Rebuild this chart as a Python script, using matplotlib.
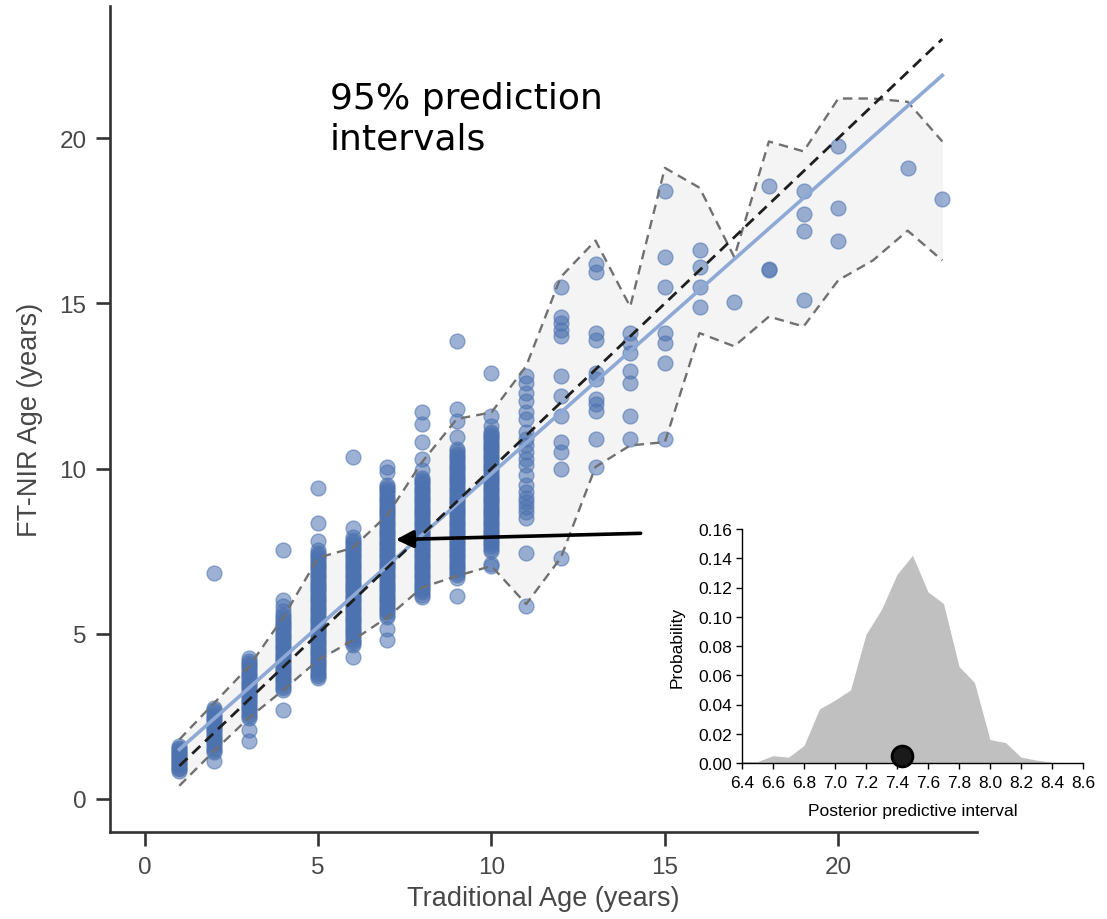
import matplotlib
matplotlib.use("Agg")
import matplotlib.pyplot as plt

plt.rcParams['font.family'] = ['Liberation Sans', 'DejaVu Sans']

# ---------------- data ----------------
# FT-NIR ages observed at each traditional age (years)
col_1 = [0.85, 0.9, 0.95, 1.0, 1.05, 1.1, 1.15, 1.2, 1.25, 1.3, 1.35, 1.4, 1.45, 1.5, 1.55, 1.6]
col_2 = [1.15, 1.42, 1.48, 1.55, 1.62, 1.68, 1.75, 1.82, 1.88, 1.95, 2.02, 2.08, 2.15, 2.22, 2.28,
         2.35, 2.42, 2.48, 2.55, 2.62, 2.68, 2.75, 6.85]
col_3 = [1.75, 2.1, 2.45, 2.52, 2.58, 2.65, 2.72, 2.78, 2.85, 2.92, 2.98, 3.05, 3.12, 3.18, 3.25,
         3.32, 3.38, 3.45, 3.52, 3.58, 3.65, 3.72, 3.78, 3.85, 3.92, 3.98, 4.05, 4.12, 4.18, 4.28]
col_4 = [2.7, 3.3, 3.37, 3.43, 3.5, 3.57, 3.63, 3.7, 3.77, 3.83, 3.9, 3.97, 4.03, 4.1, 4.17, 4.23,
         4.3, 4.37, 4.43, 4.5, 4.57, 4.63, 4.7, 4.77, 4.83, 4.9, 4.97, 5.03, 5.1, 5.17, 5.23, 5.3,
         5.37, 5.43, 5.5, 5.57, 5.7, 5.85, 6.02, 7.55]
col_5 = [3.65, 3.72, 3.78, 3.85, 3.92, 3.98, 4.05, 4.12, 4.18, 4.25, 4.32, 4.38, 4.45, 4.52, 4.58,
         4.65, 4.72, 4.78, 4.85, 4.92, 4.98, 5.05, 5.12, 5.18, 5.25, 5.32, 5.38, 5.45, 5.52, 5.58,
         5.65, 5.72, 5.78, 5.85, 5.92, 5.98, 6.05, 6.12, 6.18, 6.25, 6.32, 6.38, 6.45, 6.52, 6.58,
         6.65, 6.72, 6.78, 6.85, 6.92, 6.98, 7.05, 7.12, 7.18, 7.25, 7.32, 7.38, 7.45, 7.52,
         7.82, 8.35, 9.4]
col_6 = [4.3, 4.65, 4.72, 4.78, 4.85, 4.92, 4.98, 5.05, 5.12, 5.18, 5.25, 5.32, 5.38, 5.45, 5.52,
         5.58, 5.65, 5.72, 5.78, 5.85, 5.92, 5.98, 6.05, 6.12, 6.18, 6.25, 6.32, 6.38, 6.45, 6.52,
         6.58, 6.65, 6.72, 6.78, 6.85, 6.92, 6.98, 7.05, 7.12, 7.18, 7.25, 7.32, 7.38, 7.45, 7.52,
         7.58, 7.65, 7.72, 7.78, 7.85, 7.92, 8.2, 10.35]
col_7 = [4.8, 5.15, 5.5, 5.58, 5.65, 5.72, 5.78, 5.85, 5.92, 5.98, 6.05, 6.12, 6.18, 6.25, 6.32,
         6.38, 6.45, 6.52, 6.58, 6.65, 6.72, 6.78, 6.85, 6.92, 6.98, 7.05, 7.12, 7.18, 7.25, 7.32,
         7.38, 7.45, 7.52, 7.58, 7.65, 7.72, 7.78, 7.85, 7.92, 7.98, 8.05, 8.12, 8.18, 8.25, 8.32,
         8.38, 8.45, 8.52, 8.58, 8.65, 8.72, 8.78, 8.85, 8.92, 8.98, 9.05, 9.12, 9.18, 9.25, 9.32,
         9.38, 9.45, 9.5, 9.9, 10.05]
col_8 = [6.1, 6.18, 6.25, 6.32, 6.38, 6.45, 6.52, 6.58, 6.65, 6.72, 6.78, 6.85, 6.92, 6.98, 7.05,
         7.12, 7.18, 7.25, 7.32, 7.38, 7.45, 7.52, 7.58, 7.65, 7.72, 7.78, 7.85, 7.92, 7.98, 8.05,
         8.12, 8.18, 8.25, 8.32, 8.38, 8.45, 8.52, 8.58, 8.65, 8.72, 8.78, 8.85, 8.92, 8.98, 9.05,
         9.12, 9.18, 9.25, 9.32, 9.38, 9.45, 9.52, 9.58, 9.65, 9.7, 9.95, 10.3, 10.8, 11.35, 11.7]
col_9 = [6.15, 6.7, 6.78, 6.85, 6.92, 6.98, 7.05, 7.12, 7.18, 7.25, 7.32, 7.38, 7.45, 7.52, 7.58,
         7.65, 7.72, 7.78, 7.85, 7.92, 7.98, 8.05, 8.12, 8.18, 8.25, 8.32, 8.38, 8.45, 8.52, 8.58,
         8.65, 8.72, 8.78, 8.85, 8.92, 8.98, 9.05, 9.12, 9.18, 9.25, 9.32, 9.38, 9.45, 9.52, 9.58,
         9.65, 9.72, 9.78, 9.85, 9.92, 9.98, 10.05, 10.12, 10.18, 10.25, 10.32, 10.38, 10.45,
         10.52, 10.6, 10.95, 11.45, 11.8, 13.85]
col_10 = [7.05, 7.12, 7.5, 7.58, 7.65, 7.72, 7.78, 7.85, 7.92, 7.98, 8.05, 8.12, 8.18, 8.25, 8.32,
          8.38, 8.45, 8.52, 8.58, 8.65, 8.72, 8.78, 8.85, 8.92, 8.98, 9.05, 9.12, 9.18, 9.25, 9.32,
          9.38, 9.45, 9.52, 9.58, 9.65, 9.72, 9.78, 9.85, 9.92, 9.98, 10.05, 10.12, 10.18, 10.25,
          10.32, 10.38, 10.45, 10.52, 10.58, 10.65, 10.72, 10.78, 10.85, 10.92, 10.98, 11.05, 11.1,
          11.3, 11.6, 12.9]
col_11 = [5.85, 7.45, 8.5, 8.7, 8.85, 9.0, 9.1, 9.3, 9.5, 9.8, 10.1, 10.3, 10.5, 10.7, 10.9, 11.1,
          11.5, 11.7, 12.05, 12.3, 12.6, 12.8]
col_12 = [7.3, 10.0, 10.5, 10.8, 11.6, 12.2, 12.8, 14.0, 14.2, 14.4, 14.6, 15.5]
col_13 = [10.05, 10.9, 11.75, 11.95, 12.1, 12.7, 12.9, 13.9, 14.1, 15.95, 16.2]
col_14 = [10.9, 11.6, 12.6, 12.95, 13.5, 13.8, 14.1]
col_15 = [10.9, 13.2, 13.8, 14.1, 15.5, 16.4, 18.4]
col_16 = [14.9, 15.5, 16.1, 16.6]
col_17 = [15.05]
col_18 = [16.0, 16.05, 18.55]
col_19 = [15.1, 17.2, 17.7, 18.4]
col_20 = [16.9, 17.9, 19.75]
col_21 = []
col_22 = [19.1]
col_23 = [18.15]

trad_ages = [1, 2, 3, 4, 5, 6, 7, 8, 9, 10, 11, 12, 13, 14, 15, 16, 17, 18, 19, 20, 21, 22, 23]
columns = [col_1, col_2, col_3, col_4, col_5, col_6, col_7, col_8, col_9, col_10, col_11, col_12,
           col_13, col_14, col_15, col_16, col_17, col_18, col_19, col_20, col_21, col_22, col_23]

# 95% prediction interval bounds at each traditional age
band_upper = [1.8, 2.9, 4.0, 5.5, 7.3, 7.6, 8.6, 10.2, 11.5, 11.7, 13.1, 15.8, 16.9, 14.9, 19.1,
              18.5, 16.4, 19.9, 19.6, 21.2, 21.2, 21.1, 19.9]
band_lower = [0.4, 1.45, 2.45, 3.3, 4.2, 4.8, 5.5, 6.4, 6.75, 7.05, 5.9, 7.3, 10.05, 10.7, 10.8,
              14.1, 13.7, 14.6, 14.3, 15.7, 16.3, 17.2, 16.3]

# fitted regression line and 1:1 line
reg_x = [1, 23]
reg_y = [1.5, 21.9]
one_x = [1, 23]
one_y = [1, 23]

# arrow (tail -> head) in data coordinates
arrow_tail = (14.3, 8.04)
arrow_head = (7.24, 7.85)

# inset: posterior predictive distribution
pp_x = [6.4, 6.5, 6.6, 6.7, 6.8, 6.9, 7.0, 7.1, 7.2, 7.3, 7.4, 7.5, 7.6, 7.7, 7.8, 7.9, 8.0, 8.1,
        8.2, 8.3, 8.4, 8.5, 8.6]
pp_y = [0.001, 0.001, 0.005, 0.004, 0.012, 0.037, 0.043, 0.050, 0.088, 0.105, 0.129, 0.142, 0.117,
        0.109, 0.066, 0.055, 0.016, 0.014, 0.004, 0.002, 0.0005, 0.0, 0.0]
obs_x = [7.43]
obs_y = [0.005]

inset_xticks = [6.4, 6.6, 6.8, 7.0, 7.2, 7.4, 7.6, 7.8, 8.0, 8.2, 8.4, 8.6]
inset_yticks = [0.00, 0.02, 0.04, 0.06, 0.08, 0.10, 0.12, 0.14, 0.16]
main_ticks = [0, 5, 10, 15, 20]

# ---------------- plot ----------------
W, H = 1107, 920
fig = plt.figure(figsize=(W / 100, H / 100), dpi=100)
ax = fig.add_axes([110 / W, 1 - 833 / H, (977 - 110) / W, (833 - 7) / H])

ax.fill_between(trad_ages, band_lower, band_upper, color='#f4f4f4', lw=0, zorder=0)

xs, ys = [], []
for a, col in zip(trad_ages, columns):
    xs += [a] * len(col)
    ys += col
ax.scatter(xs, ys, s=115, color='#4C72B0', alpha=0.55, edgecolors='#4C72B0',
           linewidths=1.0, zorder=2)

ax.plot(trad_ages, band_upper, color='#707070', lw=1.7, ls=(0, (4, 2.6)), zorder=3)
ax.plot(trad_ages, band_lower, color='#707070', lw=1.7, ls=(0, (4, 2.6)), zorder=3)
ax.plot(reg_x, reg_y, color='#8ea9d5', lw=2.6, zorder=3)
ax.plot(one_x, one_y, color='#1e1e1e', lw=2.0, ls=(0, (4, 2.4)), zorder=4)

ax.annotate('', xy=arrow_head, xytext=arrow_tail,
            arrowprops=dict(arrowstyle='-|>', color='black', lw=2.6, mutation_scale=26,
                            shrinkA=0, shrinkB=0), zorder=5)

ax.set_xlim(-1, 24)
ax.set_ylim(-1, 24)
ax.set_xticks(main_ticks)
ax.set_yticks(main_ticks)
for s in ['top', 'right']:
    ax.spines[s].set_visible(False)
for s in ['left', 'bottom']:
    ax.spines[s].set_color('#333333')
    ax.spines[s].set_linewidth(1.9)
ax.tick_params(length=10, width=1.9, color='#333333', labelsize=17.5, labelcolor='#474747', pad=7)
ax.set_xlabel('Traditional Age (years)', fontsize=19.5, color='#474747', labelpad=5)
ax.set_ylabel('FT-NIR Age (years)', fontsize=19.5, color='#474747', labelpad=12)

fig.text(330 / W, 1 - 82 / H, '95% prediction\nintervals', fontsize=26, va='top', ha='left',
         linespacing=1.25, color='black', family=['DejaVu Sans'])

# inset
axi = fig.add_axes([742 / W, 1 - 764 / H, (1083 - 742) / W, (764 - 530) / H])
axi.set_facecolor('white')
axi.fill_between(pp_x, pp_y, color='#c0c0c0', lw=0)
axi.plot(obs_x, obs_y, 'o', ms=15, mfc='#1a1a1a', mec='black', mew=2, clip_on=False, zorder=5)
axi.set_xlim(6.4, 8.6)
axi.set_ylim(0, 0.16)
axi.set_xticks(inset_xticks)
axi.set_xticklabels([f'{v:.1f}' for v in inset_xticks])
axi.set_yticks(inset_yticks)
axi.set_yticklabels([f'{v:.2f}' for v in inset_yticks])
for s in ['top', 'right']:
    axi.spines[s].set_visible(False)
for s in ['left', 'bottom']:
    axi.spines[s].set_color('black')
    axi.spines[s].set_linewidth(1.0)
axi.tick_params(axis='x', length=4, width=1, labelsize=12.5, pad=5, colors='black')
axi.tick_params(axis='y', length=4, width=1, labelsize=12.5, pad=3, colors='black')
axi.set_xlabel('Posterior predictive interval', fontsize=12.5, labelpad=9)
axi.set_ylabel('Probability', fontsize=12.5, labelpad=10)

fig.savefig('out.png', dpi=100)
